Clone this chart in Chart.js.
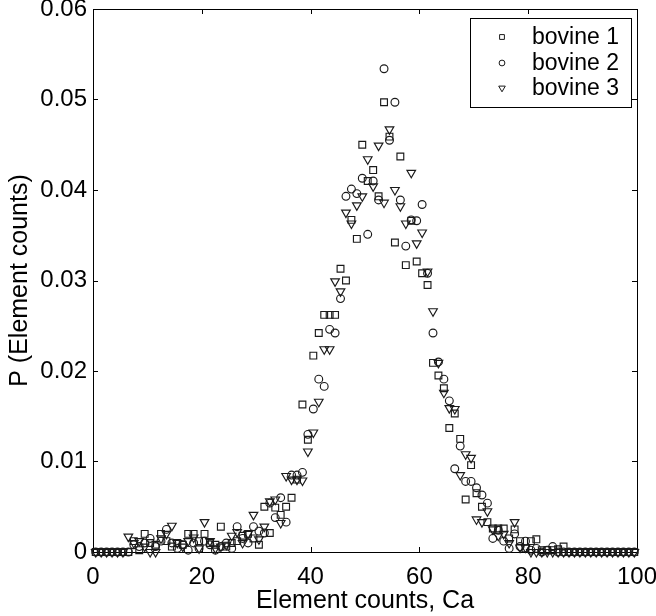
<!DOCTYPE html>
<html>
<head>
<meta charset="utf-8">
<script src="https://cdn.jsdelivr.net/npm/chart.js@4.4.1/dist/chart.umd.min.js"></script>
<style>
html,body{margin:0;padding:0;background:#fff;}
#wrap{width:656px;height:616px;}
</style>
</head>
<body>
<div id="wrap"><canvas id="c" width="656" height="616"></canvas></div>
<script>
// Bin centres (Element counts, Ca)
const xValues = [0.5,1.5,2.5,3.5,4.5,5.5,6.5,7.5,8.5,9.5,10.5,11.5,12.5,13.5,14.5,15.5,16.5,17.5,18.5,19.5,
20.5,21.5,22.5,23.5,24.5,25.5,26.5,27.5,28.5,29.5,30.5,31.5,32.5,33.5,34.5,35.5,36.5,37.5,38.5,39.5,
40.5,41.5,42.5,43.5,44.5,45.5,46.5,47.5,48.5,49.5,50.5,51.5,52.5,53.5,54.5,55.5,56.5,57.5,58.5,59.5,
60.5,61.5,62.5,63.5,64.5,65.5,66.5,67.5,68.5,69.5,70.5,71.5,72.5,73.5,74.5,75.5,76.5,77.5,78.5,79.5,
80.5,81.5,82.5,83.5,84.5,85.5,86.5,87.5,88.5,89.5,90.5,91.5,92.5,93.5,94.5,95.5,96.5,97.5,98.5,99.5];

const bovine1 = [0,0,0,0,0,0,0,0.0012,0.0002,0.0020,
0.0010,0.0008,0.0020,0.0012,0.0006,0.0010,0.0008,0.0020,0.0020,0.0012,
0.0020,0.0010,0.0008,0.0028,0.0006,0.0010,0.0012,0.0018,0.0020,0.0015,
0.0008,0.0050,0.0021,0.0049,0.0041,0.0050,0.0060,0.0080,0.0163,0.0124,
0.0217,0.0242,0.0262,0.0262,0.0262,0.0313,0.0300,0.0367,0.0346,0.0450,
0.0410,0.0422,0.0393,0.0497,0.0459,0.0342,0.0437,0.0317,0.0366,0.0321,
0.0308,0.0295,0.0209,0.0195,0.0181,0.0137,0.0153,0.0125,0.0058,0.0096,
0.0065,0.0050,0.0033,0.0026,0.0026,0.0026,0.0015,0.0025,0.0012,0.0004,
0.0012,0.0014,0.0002,0.0002,0.0002,0.0003,0.0006,0,0,0,
0,0,0,0,0,0,0,0,0,0];

const bovine2 = [0,0,0,0,0,0,0,0.0008,0.0006,0.0010,
0.0015,0.0006,0.0012,0.0025,0.0010,0.0004,0.0008,0.0002,0.0010,0.0004,
0.0012,0.0008,0.0002,0.0006,0.0010,0.0004,0.0028,0.0015,0.0010,0.0028,
0.0023,0.0021,0.0054,0.0038,0.0060,0.0033,0.0085,0.0085,0.0088,0.0130,
0.0158,0.0191,0.0183,0.0246,0.0242,0.0280,0.0393,0.0401,0.0396,0.0413,
0.0351,0.0410,0.0389,0.0534,0.0455,0.0497,0.0389,0.0338,0.0367,0.0366,
0.0384,0.0308,0.0242,0.0210,0.0191,0.0167,0.0092,0.0117,0.0078,0.0078,
0.0071,0.0063,0.0054,0.0015,0.0024,0.0012,0.0004,0.0020,0.0006,0.0012,
0.0002,0.0004,0,0.0002,0.0006,0,0,0,0,0,
0,0,0,0,0,0,0,0,0,0];

const bovine3 = [0,0,0,0,0,0,0.0017,0.0010,0.0012,0.0006,
0,0,0.0015,0.0020,0.0029,0.0010,0.0006,0.0012,0.0016,0.0004,
0.0033,0.0012,0.0004,0.0006,0.0008,0.0018,0.0022,0.0010,0.0020,0.0041,
0.0014,0.0028,0.0056,0.0058,0.0032,0.0084,0.0080,0.0080,0.0079,0.0111,
0.0132,0.0166,0.0224,0.0224,0.0299,0.0288,0.0375,0.0363,0.0383,0.0393,
0.0434,0.0404,0.0449,0.0386,0.0467,0.0400,0.0382,0.0363,0.0419,0.0341,
0.0353,0.0310,0.0266,0.0209,0.0176,0.0159,0.0158,0.0085,0.0108,0.0104,
0.0036,0.0033,0.0045,0.0025,0.0018,0.0020,0.0010,0.0033,0.0005,0.0005,
0,0,0,0,0,0,0,0,0,0,
0,0,0,0,0,0,0,0,0,0];

const seriesNames = ['bovine 1','bovine 2','bovine 3'];
const xTickValues = [0,20,40,60,80,100];
const yTickLabels = ['0','0.01','0.02','0.03','0.04','0.05','0.06'];

const FONT = '"Liberation Sans", Arial, Helvetica, sans-serif';
const INK = '#1a1a1a';

function pts(arr){ return arr.map((v,i)=>({x:xValues[i], y:v})); }

const styles = [
  {pointStyle:'rect', radius:4.8, rotation:0, legendRadius:3.4},
  {pointStyle:'circle', radius:3.9, rotation:0, legendRadius:2.9},
  {pointStyle:'triangle', radius:5.0, rotation:180, legendRadius:3.8}
];

const datasets = [bovine1,bovine2,bovine3].map((arr,k)=>({
  label: seriesNames[k],
  data: pts(arr),
  showLine:false,
  pointStyle: styles[k].pointStyle,
  pointRadius: styles[k].radius,
  pointRotation: styles[k].rotation,
  pointBorderColor: INK,
  pointBackgroundColor: 'rgba(0,0,0,0)',
  pointBorderWidth: 1.15,
  pointHoverRadius: styles[k].radius,
  clip: false
}));

const TL = 5;
const boxTicks = {
  id:'boxTicks',
  beforeDatasetsDraw(chart){
    const {ctx, chartArea:a, scales:{x,y}} = chart;
    ctx.save();
    ctx.strokeStyle = '#000';
    ctx.lineWidth = 1;
    ctx.beginPath();
    xTickValues.forEach(v=>{
      const px = Math.round(x.getPixelForValue(v))+0.5;
      ctx.moveTo(px, a.bottom); ctx.lineTo(px, a.bottom-TL);
      ctx.moveTo(px, a.top); ctx.lineTo(px, a.top+TL);
    });
    y.ticks.forEach(t=>{
      const py = Math.round(y.getPixelForValue(t.value))+0.5;
      ctx.moveTo(a.left, py); ctx.lineTo(a.left+TL, py);
      ctx.moveTo(a.right, py); ctx.lineTo(a.right-TL, py);
    });
    ctx.stroke();
    ctx.strokeRect(Math.round(a.left)+0.5, Math.round(a.top)+0.5, Math.round(a.right-a.left), Math.round(a.bottom-a.top));
    ctx.restore();
  }
};

const boxLegend = {
  id:'boxLegend',
  afterDraw(chart){
    const {ctx} = chart;
    const bx=470.5, by=18.5, bw=161, bh=89;
    ctx.save();
    ctx.fillStyle='#fff';
    ctx.fillRect(bx,by,bw,bh);
    ctx.strokeStyle='#000'; ctx.lineWidth=1;
    ctx.strokeRect(bx,by,bw,bh);
    ctx.font = '23px '+FONT;
    ctx.textBaseline='middle';
    ctx.textAlign='left';
    const rows=[37,63,88];
    chart.data.datasets.forEach((ds,i)=>{
      ctx.strokeStyle=INK; ctx.lineWidth=1;
      ctx.fillStyle='rgba(0,0,0,0)';
      Chart.helpers.drawPoint(ctx,{pointStyle:styles[i].pointStyle, rotation:styles[i].rotation, radius:styles[i].legendRadius, borderWidth:1}, 502, rows[i]);
      ctx.fillStyle='#000';
      ctx.fillText(ds.label, 532, rows[i]+1);
    });
    ctx.restore();
  }
};

new Chart(document.getElementById('c'), {
  type:'scatter',
  data:{datasets},
  options:{
    responsive:false,
    animation:false,
    events:[],
    layout:{padding:{top:9,right:19,left:0,bottom:0}},
    plugins:{legend:{display:false}, tooltip:{enabled:false}},
    scales:{
      x:{
        type:'linear', min:0, max:100,
        afterBuildTicks(s){ s.ticks = xTickValues.map(v=>({value:v})); },
        afterFit(s){ s.height = 64; s.paddingLeft = 0; s.paddingRight = 0; },
        grid:{display:false, drawTicks:false},
        border:{display:false},
        ticks:{padding:11, color:'#000', font:{family:FONT, size:24}, maxRotation:0, callback:(v)=>String(v)},
        title:{display:true, text:'Element counts, Ca', color:'#000', font:{family:FONT, size:25}, padding:{top:0,bottom:0}}
      },
      y:{
        type:'linear', min:0, max:0.06,
        afterBuildTicks(s){ s.ticks = yTickLabels.map(l=>({value:parseFloat(l)})); },
        afterFit(s){ s.width = 93; s.paddingTop = 0; s.paddingBottom = 0; },
        grid:{display:false, drawTicks:false},
        border:{display:false},
        ticks:{padding:6, color:'#000', font:{family:FONT, size:24}, callback:(v,i)=>yTickLabels[i]},
        title:{display:true, text:'P (Element counts)', color:'#000', font:{family:FONT, size:25}, padding:{top:5,bottom:0}}
      }
    }
  },
  plugins:[boxTicks, boxLegend]
});
</script>
</body>
</html>
